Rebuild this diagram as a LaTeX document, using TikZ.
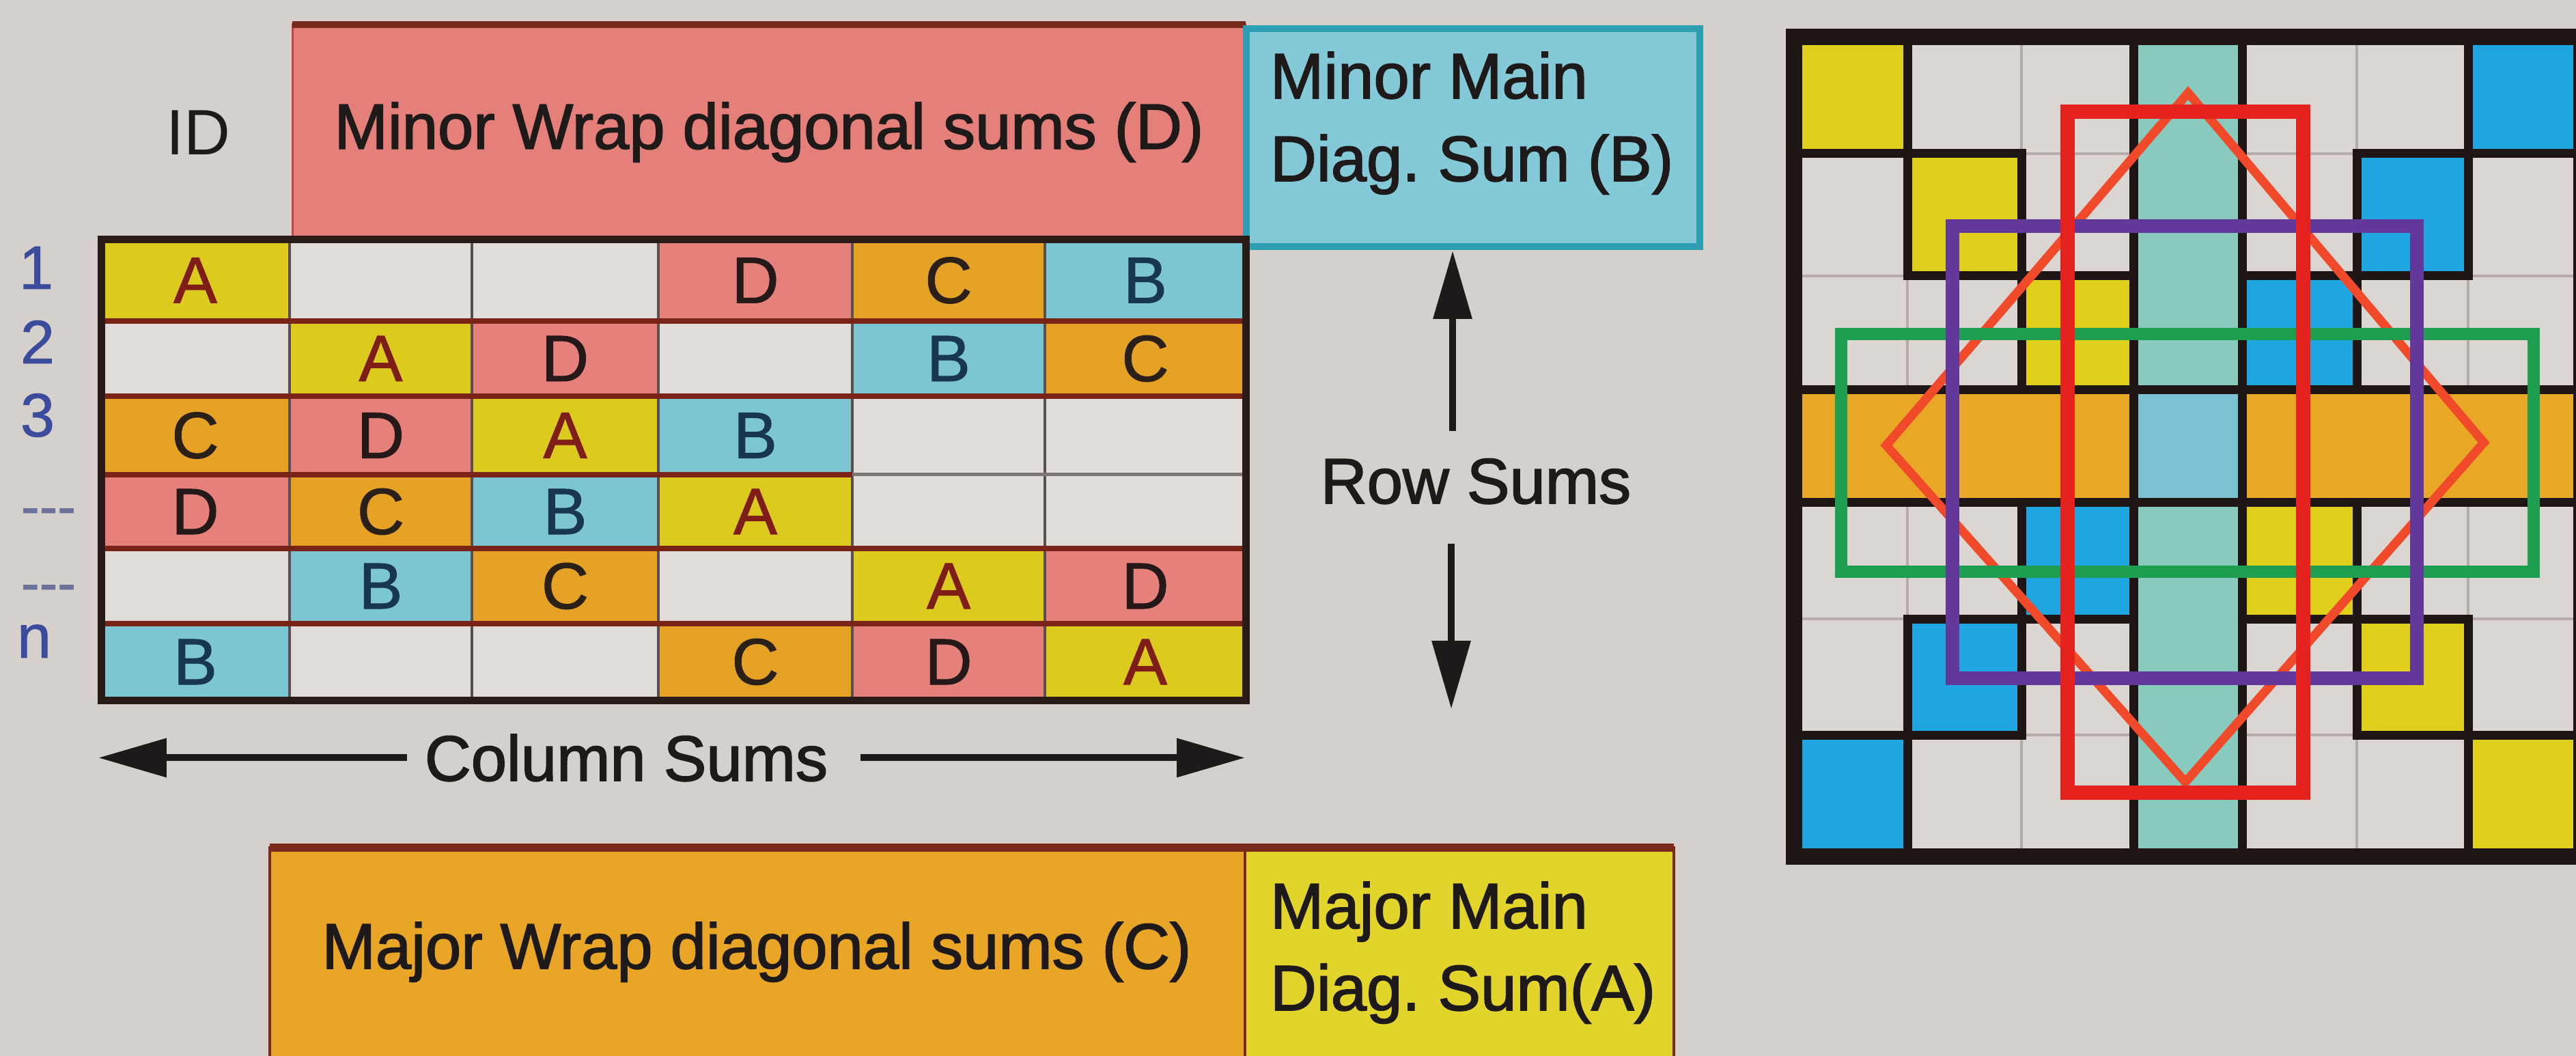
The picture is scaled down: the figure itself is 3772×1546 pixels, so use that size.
\documentclass[tikz,border=0pt]{standalone}
\usepackage{fontspec}
\setmainfont{Liberation Sans}
\newfontfamily\heavysans[FakeBold=1.8]{Liberation Sans}
\newfontfamily\midsans[FakeBold=1.0]{Liberation Sans}
\usetikzlibrary{arrows.meta}
\frenchspacing

% paper and text
\definecolor{paper}{HTML}{D6D0CD}
\definecolor{ink}{HTML}{1E1A1A}
% left table
\definecolor{blankL}{HTML}{E0DCDA}
\definecolor{cellA}{HTML}{DCCA1E}
\definecolor{cellB}{HTML}{7CC6D4}
\definecolor{cellC}{HTML}{E6A225}
\definecolor{cellD}{HTML}{E5807A}
\definecolor{txtA}{HTML}{7E1E16}
\definecolor{txtB}{HTML}{18364F}
\definecolor{txtC}{HTML}{2A2018}
\definecolor{txtD}{HTML}{241818}
\definecolor{rowline}{HTML}{7A2418}
\definecolor{greyline}{HTML}{7E7676}
\definecolor{colline}{HTML}{5A4E4E}
\definecolor{frameL}{HTML}{2A1A18}
\definecolor{pinkHdr}{HTML}{E47F79}
\definecolor{pinkEdge}{HTML}{C8443C}
\definecolor{cyanBox}{HTML}{84C9D8}
\definecolor{cyanEdge}{HTML}{2E9FB3}
\definecolor{orgBox}{HTML}{E9A626}
\definecolor{ylwBox}{HTML}{E2D42A}
\definecolor{boxEdge}{HTML}{7A2A1A}
\definecolor{numBlue}{HTML}{3C4C9C}
\definecolor{dotBlue}{HTML}{6E729A}
% right square
\definecolor{blankR}{HTML}{DCD6D3}
\definecolor{gridFaint}{HTML}{B4ACAB}
\definecolor{sqYellow}{HTML}{E0D01C}
\definecolor{sqBlue}{HTML}{1FA6E0}
\definecolor{colTeal}{HTML}{88CABD}
\definecolor{midBlue}{HTML}{7BC2D5}
\definecolor{rowOrange}{HTML}{E8A826}
\definecolor{edgeBlack}{HTML}{1E1614}
\definecolor{diamondRed}{HTML}{F04A2A}
\definecolor{rectRed}{HTML}{E6221E}
\definecolor{rectPurple}{HTML}{62389A}
\definecolor{rectGreen}{HTML}{1E9E50}

\newcommand\headfont{\heavysans\fontsize{9.4}{12.1}\selectfont}
\newcommand\idfont{\fontsize{9.4}{12.1}\selectfont}
\newcommand\cellfont{\midsans\fontsize{9.6}{11}\selectfont}
\newcommand\numfont{\midsans\fontsize{9}{11}\selectfont}
\newcommand\dotfont{\midsans\fontsize{8}{10}\selectfont}

\tikzset{
  txt/.style={inner sep=0pt, font=\headfont, text=ink},
  rownum/.style={inner sep=0pt, font=\numfont, text=numBlue, anchor=base},
  letter/.style={inner sep=0pt, font=\cellfont},
  rowsep/.style={line width=0.8pt, draw=rowline},
  colsep/.style={line width=0.35pt, draw=colline},
  arr/.style={line width=1pt, draw=ink, -{Triangle[length=10pt,width=5.5pt]}},
  sumbox/.style={inner sep=0pt, outer sep=0pt, rectangle},
  blackedge/.style={line width=1.3pt, draw=edgeBlack},
  faint/.style={line width=0.35pt, draw=gridFaint},
  ring/.style={line join=miter},
}

% column and row borders of the table (left) and of the square (right)
\def\LX{{148,424,691,964,1248,1530,1824}}
\def\LY{{351,470,580,695,803,913,1025}}
\def\RX{{2627,2793,2960,3124,3283,3451,3614,3780}}
\def\RY{{54,225,404,571,736,906,1076,1254}}

\begin{document}
\begin{tikzpicture}[x=0.1pt,y=-0.1pt]
\useasboundingbox (0,0) rectangle (3772,1546);
\fill[paper] (0,0) rectangle (3772,1546);

% ---------- header boxes ----------
\node[sumbox, fill=pinkHdr, draw=pinkEdge, line width=0.3pt,
      minimum width=139.6pt, minimum height=31.5pt, font=\headfont, text=ink]
      (minorWrap) at (1126,193.5) {Minor Wrap diagonal sums (D)};
\draw[line width=1pt, boxEdge] (minorWrap.north west) -- (minorWrap.north east);

\node[sumbox, fill=cyanBox, draw=cyanEdge, line width=1pt,
      minimum width=66.4pt, minimum height=31.9pt] (minorMain) at (2157,201.5) {};
\node[txt, anchor=base west] (minorMainA) at (1858,144) {Minor Main};
\node[txt, anchor=base west] (minorMainB) at (1858,265) {Diag. Sum (B)};

\node[txt, font=\idfont, anchor=base] (idLabel) at (290,227) {ID};

% ---------- table ----------
\fill[blankL] (148,351) rectangle (1824,1025);
\foreach \r/\c/\k in {1/1/A,1/4/D,1/5/C,1/6/B,
                      2/2/A,2/3/D,2/5/B,2/6/C,
                      3/1/C,3/2/D,3/3/A,3/4/B,
                      4/1/D,4/2/C,4/3/B,4/4/A,
                      5/2/B,5/3/C,5/5/A,5/6/D,
                      6/1/B,6/4/C,6/5/D,6/6/A}{
  \pgfmathsetmacro\xa{\LX[\c-1]}
  \pgfmathsetmacro\xb{\LX[\c]}
  \pgfmathsetmacro\ya{\LY[\r-1]}
  \pgfmathsetmacro\yb{\LY[\r]}
  \fill[fill=cell\k] (\xa,\ya) rectangle (\xb,\yb);
  \node[letter, text=txt\k] (cell-\r-\c) at ({(\xa+\xb)/2},{(\ya+\yb)/2}) {\k};
}
\foreach \x in {424,691,964,1248,1530}
  \draw[colsep] (\x,351) -- (\x,1025);
\foreach \y in {470,580,803,913}
  \draw[rowsep] (148,\y) -- (1824,\y);
\draw[rowsep] (148,695) -- (1248,695);
\draw[line width=0.5pt, greyline] (1248,695) -- (1824,695);
\draw[line width=1.1pt, frameL] (148,351) rectangle (1824,1025);

% row numbers
\node[rownum] (num1) at (53,423) {1};
\node[rownum] (num2) at (55,532) {2};
\node[rownum] (num3) at (55,639) {3};
\node[rownum, font=\dotfont, text=dotBlue] (dots1) at (71,769) {-{}-{}-};
\node[rownum, font=\dotfont, text=dotBlue] (dots2) at (71,881) {-{}-{}-};
\node[rownum] (numN) at (50,963) {n};

% ---------- sums ----------
\node[txt, anchor=base] (colSums) at (917,1143) {Column Sums};
\coordinate (csLeft) at (144,1108);
\coordinate (csRight) at (1823,1108);
\draw[arr] ([xshift=-2.4pt]colSums.west) -- (colSums.west -| csLeft);
\draw[arr] ([xshift=4.6pt]colSums.east) -- (colSums.east -| csRight);

\node[txt, anchor=base] (rowSums) at (2161,737) {Row Sums};
\coordinate (rsUp) at (2127,631);
\coordinate (rsDown) at (2125,796);
\coordinate (rsEnd) at (2125,1038);
\draw[arr, shorten >=0.6pt] (rsUp) -- (rsUp |- minorMain.south);
\draw[arr] (rsDown) -- (rsEnd);

% ---------- footer boxes ----------
\node[sumbox, fill=orgBox, draw=boxEdge, line width=0.4pt,
      minimum width=142.8pt, minimum height=40pt, anchor=north west] (majorWrap) at (395,1241) {};
\node[sumbox, fill=ylwBox, draw=boxEdge, line width=0.4pt,
      minimum width=62.8pt, minimum height=40pt, anchor=north west] (majorMain) at (1823,1241) {};
\draw[line width=1.2pt, boxEdge] (majorWrap.north west) -- (majorMain.north east);
\node[txt, anchor=base] (majorWrapTxt) at (1108,1418) {Major Wrap diagonal sums (C)};
\node[txt, anchor=base west] (majorMainA) at (1858,1359) {Major Main};
\node[txt, anchor=base west] (majorMainB) at (1858,1479) {Diag. Sum(A)};

% ---------- coloured square ----------
\fill[blankR] (2627,54) rectangle (3780,1254);
\foreach \i in {1,...,6}{
  \pgfmathsetmacro\gx{\RX[\i]}
  \pgfmathsetmacro\gy{\RY[\i]}
  \draw[faint] (\gx,54) -- (\gx,1254);
  \draw[faint] (2627,\gy) -- (3780,\gy);
}
\foreach \r/\c/\k in {0/0/sqYellow,1/1/sqYellow,2/2/sqYellow,4/4/sqYellow,5/5/sqYellow,6/6/sqYellow,
                      0/6/sqBlue,1/5/sqBlue,2/4/sqBlue,4/2/sqBlue,5/1/sqBlue,6/0/sqBlue}{
  \pgfmathsetmacro\xa{\RX[\c]}
  \pgfmathsetmacro\xb{\RX[\c+1]}
  \pgfmathsetmacro\ya{\RY[\r]}
  \pgfmathsetmacro\yb{\RY[\r+1]}
  \fill[fill=\k] (\xa,\ya) rectangle (\xb,\yb);
  \draw[blackedge] (\xa,\ya) rectangle (\xb,\yb);
}
\fill[colTeal] (3124,54) rectangle (3283,1254);
\fill[rowOrange] (2627,571) rectangle (3780,736);
\fill[midBlue] (3124,571) rectangle (3283,736);
\draw[blackedge] (3124,54) -- (3124,1254);
\draw[blackedge] (3283,54) -- (3283,1254);
\draw[blackedge] (2627,571) -- (3780,571);
\draw[blackedge] (2627,736) -- (3780,736);
\draw[line width=2.4pt, edgeBlack] (2627,54) rectangle (3780,1254);

% outlines laid over the square
\draw[ring, line width=1.3pt, diamondRed] (3204,136) -- (3637,648) -- (3200,1145) -- (2762,652) -- cycle;
\draw[ring, line width=1.8pt, rectGreen] (2696,489) rectangle (3710,837);
\draw[ring, line width=2pt, rectPurple] (2859,331) rectangle (3539,993);
\draw[ring, line width=2.1pt, rectRed] (3027,164) rectangle (3372,1160);
\end{tikzpicture}
\end{document}
